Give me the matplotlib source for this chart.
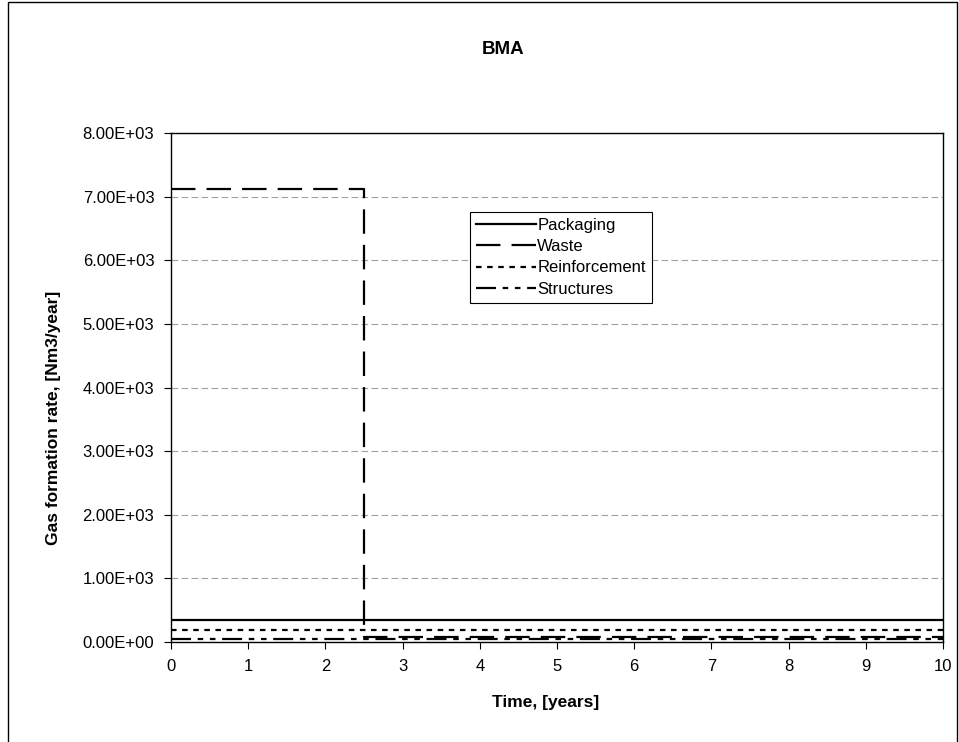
import matplotlib
matplotlib.use("Agg")
from matplotlib import pyplot as plt
from matplotlib.patches import Rectangle

plt.rcParams['font.family'] = ['Liberation Sans', 'DejaVu Sans']

# data
time_pack = [0, 10]
packaging = [340, 340]

time_waste = [0, 2.5, 2.5, 10]
waste = [7120, 7120, 75, 75]

time_reinf = [0, 10]
reinforcement = [185, 185]

time_struct = [0, 10]
structures = [40, 40]

yticks = [0, 1000, 2000, 3000, 4000, 5000, 6000, 7000, 8000]
xticks = list(range(0, 11))


def main():
    fig = plt.figure(figsize=(9.59, 7.42), dpi=100)
    ax = fig.add_axes([171 / 959, 1 - 642 / 742, (943 - 171) / 959, (642 - 133) / 742])

    ax.plot(time_pack, packaging, color="black", lw=1.6, label="Packaging")
    ax.plot(time_waste, waste, color="black", lw=1.6, dashes=(11, 5), label="Waste")
    ax.plot(time_reinf, reinforcement, color="black", lw=1.6, dashes=(2.5, 2.5), label="Reinforcement")
    ax.plot(time_struct, structures, color="black", lw=1.6, dashes=(9, 3, 2.5, 3, 2.5, 3), label="Structures")

    ax.set_xlim(0, 10)
    ax.set_ylim(0, 8000)
    ax.set_xticks(xticks)
    ax.set_yticks(yticks)
    ax.set_yticklabels(["%.2E" % v for v in yticks])
    ax.tick_params(labelsize=12, direction="out", length=5, pad=7)
    ax.yaxis.grid(True, color="#a0a0a0", ls=(0, (6, 3)), lw=0.8)
    ax.set_axisbelow(True)
    for s in ax.spines.values():
        s.set_linewidth(1.0)

    ax.set_xlabel("Time, [years]", fontsize=12.5, fontweight="bold")
    ax.set_ylabel("Gas formation rate, [Nm3/year]", fontsize=12.5, fontweight="bold")
    ax.xaxis.set_label_coords(0.485, -0.105)
    ax.yaxis.set_label_coords(-0.143, 0.44)
    fig.text(0.525, 0.933, "BMA", fontsize=13.5, fontweight="bold", ha="center", va="center")

    leg = ax.legend(loc="upper left", bbox_to_anchor=(0.387, 0.845), fontsize=12,
                    frameon=True, fancybox=False, edgecolor="black", framealpha=1,
                    handlelength=3.6, handletextpad=0.1, borderpad=0.35,
                    labelspacing=0.38, borderaxespad=0)
    leg.get_frame().set_linewidth(0.8)

    fig.patches.append(Rectangle((8 / 959, -0.05), (957 - 8) / 959, 1.05 - 2 / 742,
                                 transform=fig.transFigure, fill=False,
                                 edgecolor="black", lw=1.0))

    fig.savefig("out.png", dpi=100)


if __name__ == "__main__":
    main()
